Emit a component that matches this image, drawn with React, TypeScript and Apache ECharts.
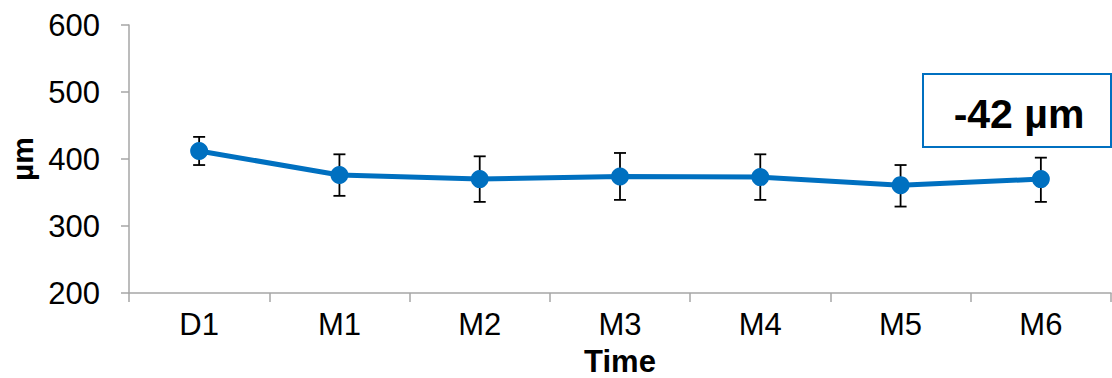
import React, { useEffect, useRef } from "react";
import * as echarts from "echarts";

// Measurement timepoints
const timepoints = ["D1", "M1", "M2", "M3", "M4", "M5", "M6"];
// Mean thickness (µm) at each timepoint
const meanValues = [412, 376, 370, 374, 373, 361, 370];
// Error bar bounds (µm)
const lowerBounds = [391, 345, 336, 339, 339, 329, 336];
const upperBounds = [433, 407, 404, 409, 407, 391, 402];
// Value axis ticks
const yMin = 200;
const yMax = 600;
const yStep = 100;

const BLUE = "#0070C0";
const FONT = "'Liberation Sans', Arial, sans-serif";

export default function App() {
  const ref = useRef<HTMLDivElement>(null);

  useEffect(() => {
    if (!ref.current) return;
    const chart = echarts.init(ref.current, null, { renderer: "svg" });

    const change = meanValues[meanValues.length - 1] - meanValues[0];
    const errorData = timepoints.map((_, i) => [i, lowerBounds[i], upperBounds[i]]);

    chart.setOption({
      animation: false,
      backgroundColor: "#ffffff",
      grid: { left: 129, right: 1, top: 25, bottom: 85, outerBoundsMode: "none", containLabel: false },
      xAxis: {
        type: "category",
        data: timepoints,
        boundaryGap: true,
        name: "Time",
        nameLocation: "middle",
        nameGap: 53,
        nameTextStyle: { fontFamily: FONT, fontSize: 31, fontWeight: "bold", color: "#000" },
        axisLine: { lineStyle: { color: "#a6a6a6", width: 1.5 } },
        axisTick: { show: true, length: 9, alignWithLabel: false, lineStyle: { color: "#a6a6a6", width: 1.5 } },
        axisLabel: { fontFamily: FONT, fontSize: 31, color: "#000", margin: 16 },
        splitLine: { show: false },
      },
      yAxis: {
        type: "value",
        min: yMin,
        max: yMax,
        interval: yStep,
        name: "µm",
        nameLocation: "middle",
        nameGap: 90,
        nameRotate: 90,
        nameTextStyle: { fontFamily: FONT, fontSize: 30, fontWeight: "bold", color: "#000" },
        axisLine: { show: true, lineStyle: { color: "#a6a6a6", width: 1.5 } },
        axisTick: { show: true, length: 8, lineStyle: { color: "#a6a6a6", width: 1.5 } },
        axisLabel: { fontFamily: FONT, fontSize: 31, color: "#000", margin: 29 },
        splitLine: { show: false },
      },
      series: [
        {
          type: "custom",
          name: "error",
          data: errorData,
          z: 3,
          renderItem: (params: any, api: any) => {
            const idx = api.value(0);
            const lo = api.coord([idx, api.value(1)]);
            const hi = api.coord([idx, api.value(2)]);
            const half = 6;
            const style = { stroke: "#000", lineWidth: 1.8 };
            return {
              type: "group",
              children: [
                { type: "line", shape: { x1: hi[0], y1: hi[1], x2: lo[0], y2: lo[1] }, style },
                { type: "line", shape: { x1: hi[0] - half, y1: hi[1], x2: hi[0] + half, y2: hi[1] }, style },
                { type: "line", shape: { x1: lo[0] - half, y1: lo[1], x2: lo[0] + half, y2: lo[1] }, style },
              ],
            };
          },
        },
        {
          type: "line",
          name: "mean",
          data: meanValues,
          z: 4,
          symbol: "circle",
          symbolSize: 18,
          lineStyle: { color: BLUE, width: 5 },
          itemStyle: { color: BLUE },
        },
      ],
      graphic: [
        {
          type: "group",
          left: 922,
          top: 73,
          children: [
            {
              type: "rect",
              shape: { x: 0, y: 0, width: 188, height: 73 },
              style: { fill: "#fff", stroke: BLUE, lineWidth: 2 },
            },
            {
              type: "text",
              x: 96,
              y: 40,
              style: {
                text: `${change} µm`,
                fontFamily: FONT,
                fontSize: 41,
                fontWeight: "bold",
                fill: "#000",
                align: "center",
                verticalAlign: "middle",
              },
            },
          ],
        },
      ],
    });

    return () => chart.dispose();
  }, []);

  return (
    <div
      ref={ref}
      style={{ position: "fixed", left: 0, top: 0, width: 1112, height: 378, background: "#fff" }}
    />
  );
}
